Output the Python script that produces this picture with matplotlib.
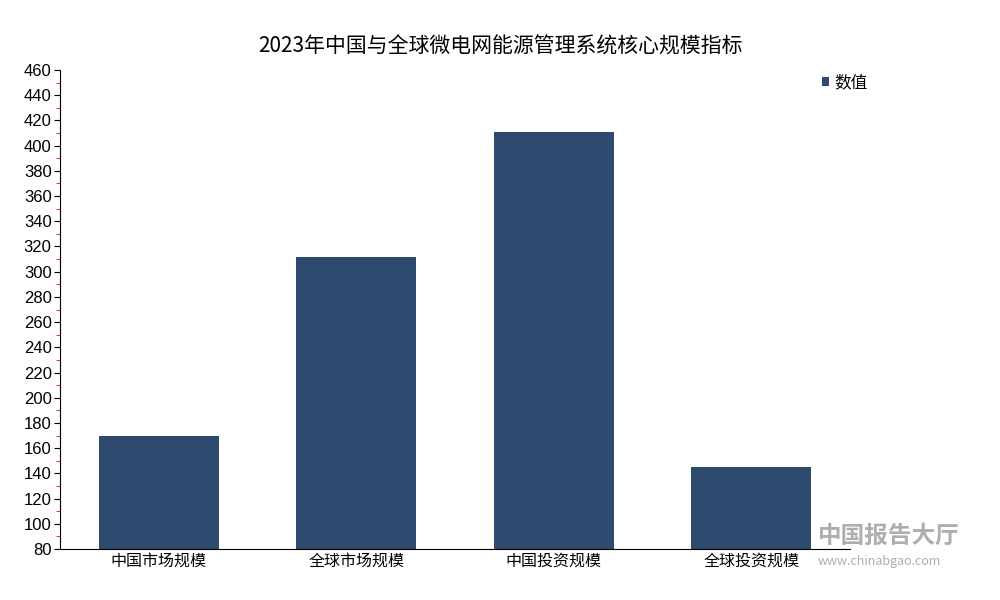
import matplotlib.pyplot as plt
from matplotlib.ticker import MultipleLocator

plt.rcParams['font.family'] = ['Noto Sans CJK SC', 'DejaVu Sans']

categories = ['中国市场规模', '全球市场规模', '中国投资规模', '全球投资规模']
values = [170, 312, 411, 145]
bar_color = '#2e4a6e'

fig = plt.figure(figsize=(10, 6), dpi=100)
ax = fig.add_axes([0.06, 0.085, 0.79, 0.7983])

x = range(len(categories))
ax.bar(x, values, width=0.61, color=bar_color, label='数值')

ax.set_xlim(-0.5, 3.5)
ax.set_ylim(80, 460)
ax.set_xticks(list(x))
ax.set_xticklabels(categories, fontsize=11.5)
ax.yaxis.set_major_locator(MultipleLocator(20))
ax.yaxis.set_minor_locator(MultipleLocator(10))
ax.tick_params(axis='y', which='major', length=4, labelsize=12, colors='black', pad=2)
ax.tick_params(axis='y', which='minor', length=3, color='red')
ax.tick_params(axis='x', which='major', length=0, pad=3)
for lbl in ax.get_yticklabels():
    lbl.set_family(['Liberation Sans', 'DejaVu Sans'])

for s in ['top', 'right']:
    ax.spines[s].set_visible(False)

fig.suptitle('2023年中国与全球微电网能源管理系统核心规模指标', y=0.94, fontsize=15)

ax.legend(loc='upper left', bbox_to_anchor=(0.945, 1.022), frameon=False,
          handlelength=0.45, handleheight=0.45, handletextpad=0.3, fontsize=12)

# watermark
fig.text(0.818, 0.095, '中国报告大厅', fontsize=17, color='#9a9a9a', alpha=0.8, weight='bold')
fig.text(0.818, 0.058, 'www.chinabgao.com', fontsize=9, color='#9a9a9a', alpha=0.8)

fig.savefig('out.png', dpi=100)
